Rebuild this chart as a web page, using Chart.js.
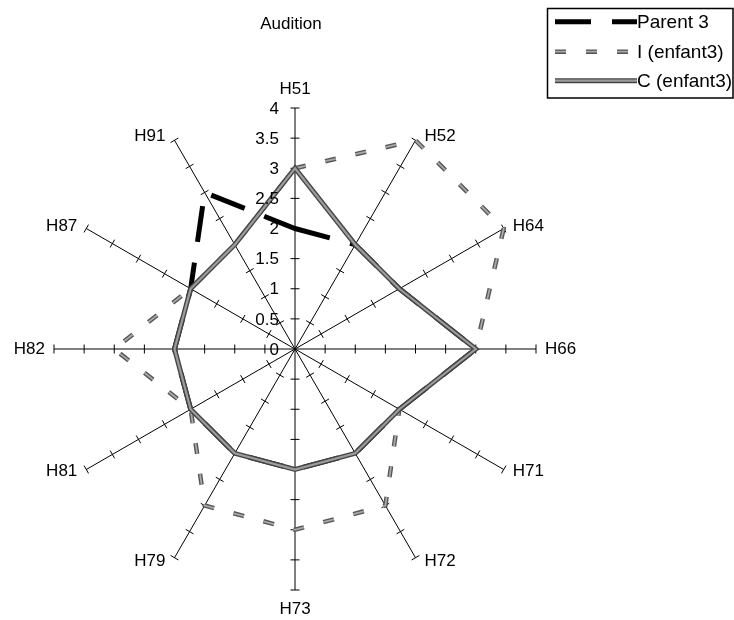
<!DOCTYPE html>
<html><head><meta charset="utf-8">
<style>html,body{margin:0;padding:0;background:#fff;}#wrap{position:relative;width:734px;height:620px;}</style>
<script src="https://cdn.jsdelivr.net/npm/chart.js@4.4.1/dist/chart.umd.min.js"></script>
</head><body><div id="wrap"><canvas id="c" width="734" height="620"></canvas></div>
<script>
const chartTitle = 'Audition';
const categories = ['H51','H52','H64','H66','H71','H72','H73','H79','H81','H82','H87','H91'];
const parent3 = [2,2,2,3,2,2,2,2,2,2,2,3];
const enfantI = [3,4,4,3,2,3,3,3,2,3,2,2];
const enfantC = [3,2,2,3,2,2,2,2,2,2,2,2];
const seriesNames = ['Parent 3','I (enfant3)','C (enfant3)'];
const tickValues = [0,0.5,1,1.5,2,2.5,3,3.5,4];
const tickLabels = ['0','0.5','1','1.5','2','2.5','3','3.5','4'];

const FONT = '"Liberation Sans", Arial, sans-serif';
const STY = {
  parent: {color:'#000', width:5, dash:[36,21]},
  I: {color:'#555555', inner:'#a8a8a8', width:4.5, innerW:1.8, dash:[11,20]},
  C: {color:'#454545', inner:'#9c9c9c', width:5, innerW:2.2}
};

function innerStroke(ctx, pts, color, w, dash){
  ctx.save();
  ctx.strokeStyle = color; ctx.lineWidth = w; ctx.setLineDash(dash||[]);
  ctx.lineJoin = 'miter';
  ctx.beginPath();
  pts.forEach((p,i)=> i?ctx.lineTo(p.x,p.y):ctx.moveTo(p.x,p.y));
  ctx.lineTo(pts[0].x, pts[0].y);
  ctx.closePath();
  ctx.stroke();
  ctx.restore();
}

const decor = {
  id:'decor',
  beforeDatasetsDraw(chart){
    const s = chart.scales.r, ctx = chart.ctx;
    ctx.save(); ctx.strokeStyle='#000'; ctx.lineWidth=1;
    for (let i=0;i<categories.length;i++){
      const c = s.getPointPositionForValue(i, 0);
      const e = s.getPointPositionForValue(i, tickValues[tickValues.length-1]);
      const L = Math.hypot(e.x-c.x, e.y-c.y), ux=(e.x-c.x)/L, uy=(e.y-c.y)/L;
      const px=-uy, py=ux;
      tickValues.forEach(v=>{
        if (v===0) return;
        const p = s.getPointPositionForValue(i, v);
        ctx.beginPath(); ctx.moveTo(p.x+px*4.5, p.y+py*4.5); ctx.lineTo(p.x-px*4.5, p.y-py*4.5); ctx.stroke();
      });
    }
    ctx.restore();
  },
  afterDatasetDraw(chart, args){
    const meta = chart.getDatasetMeta(args.index);
    const pts = meta.data.map(p=>({x:p.x,y:p.y}));
    if (args.index===1) innerStroke(chart.ctx, pts, STY.I.inner, STY.I.innerW, STY.I.dash);
    if (args.index===2) innerStroke(chart.ctx, pts, STY.C.inner, STY.C.innerW, []);
  },
  afterDraw(chart){
    const s = chart.scales.r, ctx = chart.ctx;
    ctx.save();
    ctx.fillStyle='#000'; ctx.font = '17px '+FONT; ctx.textAlign='center'; ctx.textBaseline='middle';
    ctx.fillText(chartTitle, 291, 24);
    ctx.font = '17px '+FONT;
    for (let i=0;i<categories.length;i++){
      const c = s.getPointPositionForValue(i, 0);
      const e = s.getPointPositionForValue(i, tickValues[tickValues.length-1]);
      const L = Math.hypot(e.x-c.x, e.y-c.y), ux=(e.x-c.x)/L, uy=(e.y-c.y)/L;
      let x, y;
      if (Math.abs(ux)<0.01){ ctx.textAlign='center'; x=e.x; y=e.y+Math.sign(uy)*19; }
      else { ctx.textAlign = ux>0?'left':'right'; x=e.x+Math.sign(ux)*9; y=e.y+uy*4.5; }
      ctx.textBaseline='middle';
      ctx.fillText(categories[i], x, y);
    }
    ctx.textAlign='right'; ctx.textBaseline='middle'; ctx.font='17px '+FONT;
    tickValues.forEach((v,k)=>{
      const p = s.getPointPositionForValue(0, v);
      ctx.fillText(tickLabels[k], p.x-16, p.y+1);
    });
    ctx.lineWidth=1.5; ctx.strokeStyle='#000'; ctx.setLineDash([]);
    ctx.strokeRect(547.5, 8.5, 185.5, 89.5);
    const rows=[21.7,51.7,80.7], x0=555, x1=637;
    ctx.lineCap='butt';
    ctx.strokeStyle=STY.parent.color; ctx.lineWidth=STY.parent.width; ctx.setLineDash(STY.parent.dash);
    ctx.beginPath(); ctx.moveTo(x0,rows[0]); ctx.lineTo(x1,rows[0]); ctx.stroke();
    ctx.setLineDash(STY.I.dash);
    ctx.strokeStyle=STY.I.color; ctx.lineWidth=STY.I.width;
    ctx.beginPath(); ctx.moveTo(x0,rows[1]); ctx.lineTo(x1-8,rows[1]); ctx.stroke();
    ctx.strokeStyle=STY.I.inner; ctx.lineWidth=STY.I.innerW;
    ctx.beginPath(); ctx.moveTo(x0,rows[1]); ctx.lineTo(x1-8,rows[1]); ctx.stroke();
    ctx.setLineDash([]);
    ctx.strokeStyle=STY.C.color; ctx.lineWidth=STY.C.width;
    ctx.beginPath(); ctx.moveTo(x0,rows[2]); ctx.lineTo(x1,rows[2]); ctx.stroke();
    ctx.strokeStyle=STY.C.inner; ctx.lineWidth=STY.C.innerW;
    ctx.beginPath(); ctx.moveTo(x0,rows[2]); ctx.lineTo(x1,rows[2]); ctx.stroke();
    ctx.fillStyle='#000'; ctx.font='19px '+FONT; ctx.textAlign='left'; ctx.textBaseline='middle';
    seriesNames.forEach((n,k)=>ctx.fillText(n, 637, rows[k]+1));
    ctx.restore();
  }
};

new Chart(document.getElementById('c'), {
  type:'radar',
  data:{
    labels: categories,
    datasets:[
      {label:seriesNames[0], data:parent3, borderColor:STY.parent.color, borderWidth:STY.parent.width, borderDash:STY.parent.dash, fill:false, pointRadius:0, order:3, borderJoinStyle:'miter'},
      {label:seriesNames[1], data:enfantI, borderColor:STY.I.color, borderWidth:STY.I.width, borderDash:STY.I.dash, fill:false, pointRadius:0, order:2},
      {label:seriesNames[2], data:enfantC, borderColor:STY.C.color, borderWidth:STY.C.width, fill:false, pointRadius:0, order:1, borderJoinStyle:'miter'}
    ]
  },
  options:{
    responsive:false, animation:false,
    layout:{padding:{left:54,right:198,top:108,bottom:30}},
    plugins:{legend:{display:false}, title:{display:false}, tooltip:{enabled:false}},
    elements:{line:{tension:0}},
    scales:{r:{min:0,max:4,beginAtZero:true,
      grid:{display:false},
      angleLines:{display:true,color:'#000',lineWidth:1},
      ticks:{display:false,stepSize:0.5},
      pointLabels:{display:false}}}
  },
  plugins:[decor]
});
</script></body></html>
